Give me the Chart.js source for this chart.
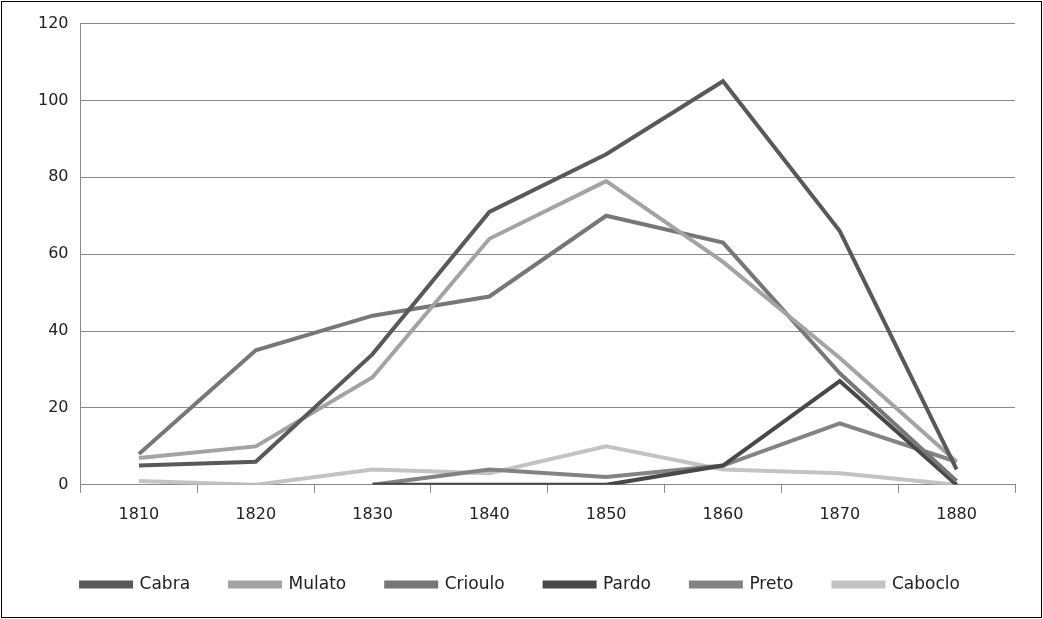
<!DOCTYPE html>
<html><head>
<script src="https://cdn.jsdelivr.net/npm/chart.js@4/dist/chart.umd.min.js"></script>
<style>
html,body{margin:0;padding:0;background:#fff;}
#wrap{position:absolute;left:1px;top:1px;width:1039px;height:615px;border:1px solid #000;}
</style>
</head><body>
<div id="wrap"><canvas id="c"></canvas></div>
<script>
// Values
const years = ['1810', '1820', '1830', '1840', '1850', '1860', '1870', '1880'];
const cabra = [5, 6, 34, 71, 86, 105, 66, 4];
const mulato = [7, 10, 28, 64, 79, 58, 33, 6];
const crioulo = [8, 35, 44, 49, 70, 63, 29, 1];
const pardo = [null, null, 0, 0, 0, 5, 27, 0];
const preto = [null, null, 0, 4, 2, 5, 16, 6];
const caboclo = [1, 0, 4, 3, 10, 4, 3, 0];

function series(label, data, color) {
    return { label: label, data: data, borderColor: color, backgroundColor: color,
             borderWidth: 4, pointRadius: 0, tension: 0 };
}

new Chart(document.getElementById('c'), {
    type: 'line',
    data: {
        labels: years,
        datasets: [
            series('Cabra', cabra, '#595959'),
            series('Mulato', mulato, '#a3a3a3'),
            series('Crioulo', crioulo, '#777777'),
            series('Pardo', pardo, '#484848'),
            series('Preto', preto, '#838383'),
            series('Caboclo', caboclo, '#c3c3c3')
        ]
    },
    options: {
        responsive: true,
        maintainAspectRatio: false,
        animation: false,
        layout: { padding: { left: 24, right: 26, top: 20, bottom: 14 } },
        plugins: {
            legend: {
                position: 'bottom',
                labels: { boxWidth: 50, boxHeight: 4, padding: 40, color: '#222',
                          font: { family: 'DejaVu Sans', size: 17 } }
            },
            tooltip: { enabled: false }
        },
        scales: {
            x: {
                offset: true,
                grid: { offset: true, drawOnChartArea: false, color: '#888', tickLength: 8 },
                border: { color: '#888' },
                ticks: { color: '#222', font: { family: 'DejaVu Sans', size: 16 }, padding: 12 }
            },
            y: {
                min: 0, max: 120,
                ticks: { stepSize: 20, color: '#222', font: { family: 'DejaVu Sans', size: 16 }, padding: 12 },
                grid: { color: '#888', tickLength: 0 },
                border: { color: '#888' }
            }
        }
    }
});
</script>
</body></html>
